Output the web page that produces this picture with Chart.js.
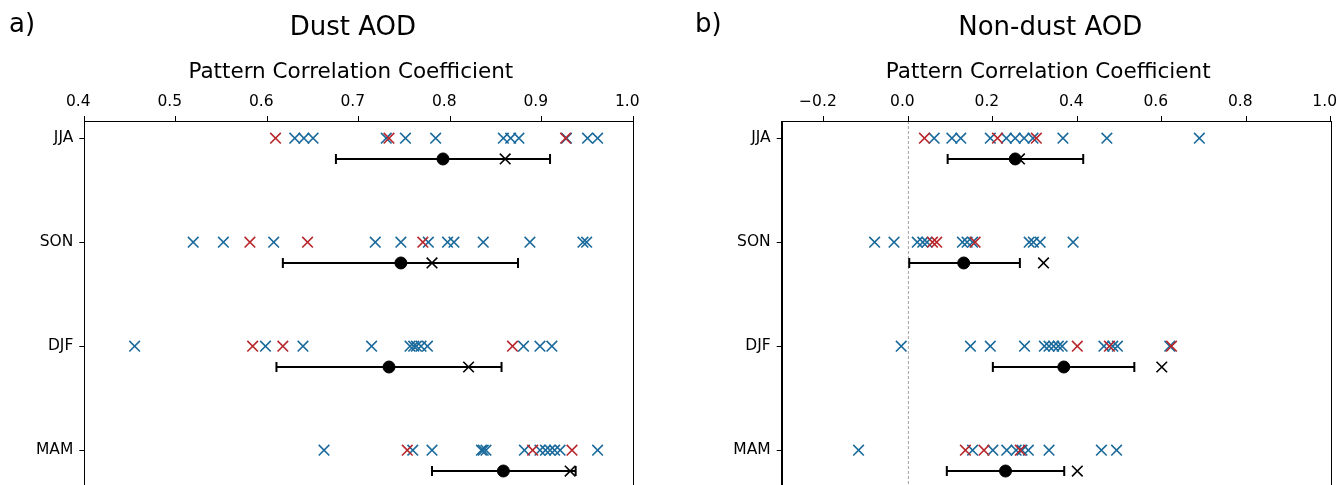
<!DOCTYPE html>
<html>
<head>
<meta charset="utf-8">
<script src="https://cdn.jsdelivr.net/npm/chart.js@4"></script>
<style>
  html, body { margin: 0; padding: 0; background: #fff; overflow: hidden; }
  #wrap { position: relative; width: 1337px; height: 485px; overflow: hidden; }
  canvas { position: absolute; top: 0; }
  #dust { left: 0; }
  #nondust { left: 668px; }
</style>
</head>
<body>
<div id="wrap">
  <canvas id="dust" width="668" height="504"></canvas>
  <canvas id="nondust" width="685" height="504"></canvas>
</div>
<script>
const SEASONS = ['JJA', 'SON', 'DJF', 'MAM'];
const ERR_OFFSET = 0.2;
const BLUE = '#1b6a9c';
const RED = '#b8272c';

// a) Dust AOD
const dustTicks = [0.4, 0.5, 0.6, 0.7, 0.8, 0.9, 1.0];
const dustBlue = [
    [0.630, 0.640, 0.650, 0.730, 0.751, 0.784, 0.858, 0.866, 0.875, 0.927, 0.950, 0.961],
    [0.519, 0.552, 0.607, 0.718, 0.746, 0.776, 0.797, 0.804, 0.836, 0.887, 0.945, 0.949],
    [0.455, 0.598, 0.639, 0.714, 0.756, 0.760, 0.763, 0.768, 0.775, 0.880, 0.898, 0.911],
    [0.662, 0.759, 0.780, 0.834, 0.836, 0.839, 0.881, 0.898, 0.904, 0.909, 0.914, 0.920, 0.961]
];
const dustRed = [
    [0.609, 0.733, 0.926],
    [0.581, 0.644, 0.770],
    [0.584, 0.617, 0.868],
    [0.753, 0.890, 0.933]
];
const dustMean = [0.792, 0.746, 0.733, 0.858];
const dustLow = [0.675, 0.617, 0.610, 0.780];
const dustHigh = [0.909, 0.874, 0.856, 0.937];
const dustObs = [0.860, 0.780, 0.820, 0.931];

// b) Non-dust AOD
const nondustTicks = [-0.2, 0.0, 0.2, 0.4, 0.6, 0.8, 1.0];
const nondustBlue = [
    [0.061, 0.103, 0.124, 0.194, 0.232, 0.253, 0.274, 0.295, 0.366, 0.470, 0.689],
    [-0.080, -0.034, 0.021, 0.034, 0.044, 0.128, 0.139, 0.152, 0.286, 0.296, 0.312, 0.390],
    [-0.017, 0.147, 0.194, 0.275, 0.322, 0.333, 0.344, 0.355, 0.364, 0.463, 0.484, 0.495, 0.619],
    [-0.118, 0.152, 0.200, 0.233, 0.255, 0.269, 0.284, 0.333, 0.457, 0.493]
];
const nondustRed = [
    [0.038, 0.211, 0.303],
    [0.057, 0.067, 0.158],
    [0.400, 0.476, 0.623],
    [0.135, 0.179, 0.265]
];
const nondustMean = [0.253, 0.131, 0.368, 0.230];
const nondustLow = [0.093, 0.002, 0.200, 0.091];
const nondustHigh = [0.414, 0.264, 0.535, 0.369];
const nondustObs = [0.263, 0.320, 0.600, 0.400];

const Y_MIN = -0.165;
const Y_MAX = 3.37;
const FONT = '"DejaVu Sans", "Liberation Sans", sans-serif';

// frame + panel letter, title and axis label
const panelText = {
    id: 'panelText',
    afterDraw(chart, args, o) {
        const {ctx, chartArea} = chart;
        const mid = (chartArea.left + chartArea.right) / 2;
        ctx.save();
        ctx.strokeStyle = '#000';
        ctx.lineWidth = 1;
        ctx.strokeRect(Math.round(chartArea.left) + 0.5, Math.round(chartArea.top) + 0.5,
            Math.round(chartArea.right - chartArea.left), Math.round(chartArea.bottom - chartArea.top));
        ctx.fillStyle = '#000';
        ctx.textBaseline = 'middle';
        ctx.font = '26px ' + FONT;
        ctx.textAlign = 'left';
        ctx.fillText(o.letter, o.letterX, 25);
        ctx.textAlign = 'center';
        ctx.fillText(o.title, mid - 6, 28);
        ctx.font = '21.5px ' + FONT;
        ctx.fillText(o.xlabel, mid - 8, 72);
        ctx.restore();
    }
};

function fmt(v) {
    return v.toFixed(1).replace('-', '\u2212');
}

function makePanel(id, cfg) {
    const datasets = [];
    SEASONS.forEach(function(s, i) {
        const y = i + ERR_OFFSET;
        datasets.push({
            type: 'line',
            data: [{x: cfg.low[i], y: y}, {x: cfg.high[i], y: y}],
            borderColor: '#000',
            borderWidth: 2,
            pointStyle: 'line',
            rotation: 90,
            pointRadius: 5,
            pointBorderWidth: 2,
            pointBorderColor: '#000',
            order: 1
        });
        datasets.push({
            data: [{x: cfg.mean[i], y: y}],
            pointStyle: 'circle',
            pointRadius: 6,
            backgroundColor: '#000',
            borderColor: '#000',
            order: 0
        });
        datasets.push({
            data: [{x: cfg.obs[i], y: y}],
            pointStyle: 'crossRot',
            pointRadius: 7.5,
            borderWidth: 1.6,
            borderColor: '#000',
            order: 0
        });
        datasets.push({
            data: cfg.red[i].map(v => ({x: v, y: i})),
            pointStyle: 'crossRot',
            pointRadius: 7.5,
            borderWidth: 1.6,
            borderColor: RED,
            order: 2
        });
        datasets.push({
            data: cfg.blue[i].map(v => ({x: v, y: i})),
            pointStyle: 'crossRot',
            pointRadius: 7.5,
            borderWidth: 1.6,
            borderColor: BLUE,
            order: 3
        });
    });
    if (cfg.zeroLine) {
        datasets.push({
            type: 'line',
            data: [{x: 0, y: Y_MIN}, {x: 0, y: Y_MAX}],
            borderColor: '#8a8a8a',
            borderWidth: 0.8,
            borderDash: [3, 2],
            pointRadius: 0,
            order: 10
        });
    }

    return new Chart(document.getElementById(id), {
        type: 'scatter',
        data: {datasets: datasets},
        options: {
            responsive: false,
            animation: false,
            events: [],
            layout: {padding: {left: 0, right: cfg.padRight, top: 0, bottom: 0}},
            plugins: {
                legend: {display: false},
                tooltip: {enabled: false},
                title: {display: false},
                panelText: {letter: cfg.letter, letterX: cfg.letterX, title: cfg.title, xlabel: 'Pattern Correlation Coefficient'}
            },
            scales: {
                x: {
                    type: 'linear',
                    position: 'top',
                    min: cfg.min,
                    max: cfg.max,
                    afterBuildTicks: s => { s.ticks = cfg.ticks.map(v => ({value: v})); },
                    afterFit: s => { s.height = 121; },
                    grid: {drawOnChartArea: false, drawTicks: true, tickLength: 5, color: '#000', tickColor: '#000'},
                    border: {display: true, color: '#000'},
                    ticks: {
                        color: '#000',
                        font: {family: FONT, size: 15.5},
                        padding: 5,
                        labelOffset: -6,
                        maxRotation: 0,
                        callback: v => fmt(v)
                    }
                },
                y: {
                    type: 'linear',
                    reverse: true,
                    min: Y_MIN,
                    max: Y_MAX,
                    afterBuildTicks: s => { s.ticks = SEASONS.map((n, i) => ({value: i})); },
                    afterFit: s => { s.width = cfg.yWidth; },
                    grid: {drawOnChartArea: false, drawTicks: true, tickLength: 5, color: '#000', tickColor: '#000'},
                    border: {display: true, color: '#000'},
                    ticks: {
                        color: '#000',
                        font: {family: FONT, size: 15.5},
                        padding: 6,
                        callback: v => SEASONS[v]
                    }
                }
            }
        },
        plugins: [panelText]
    });
}

makePanel('dust', {
    letter: 'a)', letterX: 9, title: 'Dust AOD',
    min: 0.4, max: 1.0, ticks: dustTicks,
    blue: dustBlue, red: dustRed,
    mean: dustMean, low: dustLow, high: dustHigh, obs: dustObs,
    yWidth: 84.3, padRight: 34.7, zeroLine: false
});

makePanel('nondust', {
    letter: 'b)', letterX: 27, title: 'Non-dust AOD',
    min: -0.3, max: 1.0, ticks: nondustTicks,
    blue: nondustBlue, red: nondustRed,
    mean: nondustMean, low: nondustLow, high: nondustHigh, obs: nondustObs,
    yWidth: 113.7, padRight: 22.3, zeroLine: true
});
</script>
</body>
</html>
